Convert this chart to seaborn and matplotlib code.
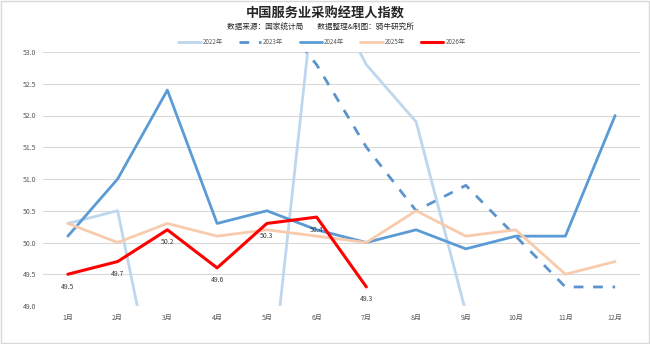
import numpy as np
import seaborn as sns
import matplotlib.pyplot as plt
from matplotlib.ticker import FormatStrFormatter

months = ['1月', '2月', '3月', '4月', '5月', '6月', '7月', '8月', '9月', '10月', '11月', '12月']

pmi_2022 = [50.3, 50.5, 46.7, 40.0, 47.1, 54.3, 52.8, 51.9, 48.9, 47.0, 45.1, 39.4]
pmi_2023 = [54.0, 55.6, 56.9, 55.1, 53.8, 52.8, 51.5, 50.5, 50.9, 50.1, 49.3, 49.3]
pmi_2024 = [50.1, 51.0, 52.4, 50.3, 50.5, 50.2, 50.0, 50.2, 49.9, 50.1, 50.1, 52.0]
pmi_2025 = [50.3, 50.0, 50.3, 50.1, 50.2, 50.1, 50.0, 50.5, 50.1, 50.2, 49.5, 49.7]
pmi_2026 = [49.5, 49.7, 50.2, 49.6, 50.3, 50.4, 49.3]

sns.set_style("white")
plt.rcParams['font.family'] = ['Noto Sans CJK SC', 'DejaVu Sans']

fig = plt.figure(figsize=(6.5, 3.44), dpi=100)
ax = fig.add_axes([43 / 650, 1 - 306 / 344, 597 / 650, 254 / 344])

# series: (label, values, color, width, style)
series = [
    ('2022年', pmi_2022, '#BDD7EE', 2.0, '-'),
    ('2023年', pmi_2023, '#5B93CC', 2.0, (0, (3.5, 3.5))),
    ('2024年', pmi_2024, '#5B9BD5', 2.0, '-'),
    ('2025年', pmi_2025, '#F8CBAD', 2.0, '-'),
    ('2026年', pmi_2026, '#FF0000', 2.2, '-'),
]
for label, vals, color, lw, ls in series:
    sns.lineplot(x=months[:len(vals)], y=vals, color=color, lw=lw, linestyle=ls,
                 sort=False, label=label, ax=ax)

# data labels for 2026
for m, v in zip(months, pmi_2026):
    ax.annotate(f'{v:.1f}', (m, v), xytext=(0, -9), textcoords='offset points',
                ha='center', va='center', fontsize=5, color='#404040')

ax.set_ylim(49.0, 53.0)
ax.set_xlim(-0.5, 11.5)
ax.set_yticks(np.arange(49.0, 53.01, 0.5))
ax.yaxis.set_major_formatter(FormatStrFormatter('%.1f'))
ax.grid(axis='y', color='#D9D9D9', lw=0.8)
ax.set_axisbelow(True)
for s in ax.spines.values():
    s.set_visible(False)
ax.tick_params(axis='both', length=0, labelsize=5, colors='#595959')
ax.tick_params(axis='x', pad=6)
ax.tick_params(axis='y', pad=5)
ax.set_xlabel('')
ax.set_ylabel('')

ax.get_legend().remove()
handles, labels = ax.get_legend_handles_labels()
fig.legend(handles, labels, loc='center', bbox_to_anchor=(0.495, 1 - 42 / 344), ncol=5,
           frameon=False, fontsize=4.5, handlelength=3.6, columnspacing=2.6, handletextpad=0.3,
           labelcolor='#595959')

fig.text(0.5, 1 - 14 / 344, '中国服务业采购经理人指数', ha='center', va='center',
         fontsize=9.5, fontweight='bold', color='#262626')
fig.text(0.493, 1 - 28 / 344, '数据来源：国家统计局        数据整理&制图：骑牛研究所',
         ha='center', va='center', fontsize=5.5, color='#262626')

fig.patches.append(plt.Rectangle((0.002, 0.003), 0.996, 0.994, transform=fig.transFigure,
                                 fill=False, edgecolor='#D9D9D9', lw=1))

fig.savefig('out.png', dpi=100)
